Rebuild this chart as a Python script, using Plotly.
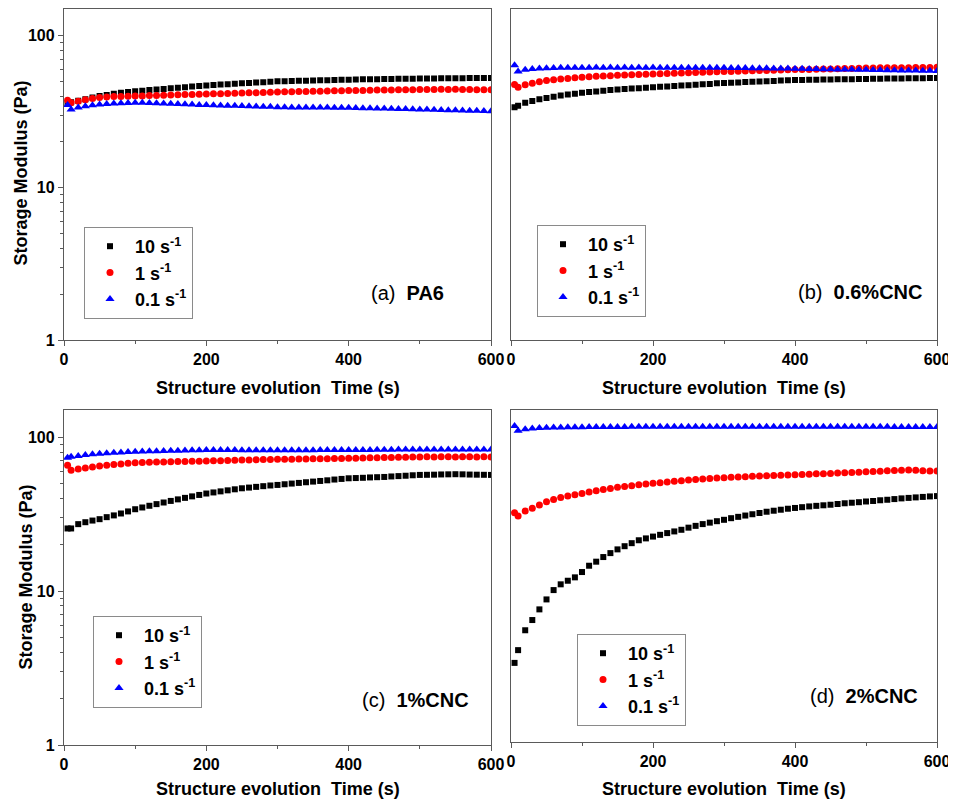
import plotly.graph_objects as go

# page offset: the browser puts the figure 8 px from the top-left corner
OFF = 8
W, H = 948, 793

# Time (s)
T = [5, 10, 20, 30, 40, 50, 60, 70, 80, 90, 100,
     110, 120, 130, 140, 150, 160, 170, 180, 190, 200,
     210, 220, 230, 240, 250, 260, 270, 280, 290, 300,
     310, 320, 330, 340, 350, 360, 370, 380, 390, 400,
     410, 420, 430, 440, 450, 460, 470, 480, 490, 500,
     510, 520, 530, 540, 550, 560, 570, 580, 590, 600]

SERIES_NAMES = ["10 s<sup>-1</sup>", "1 s<sup>-1</sup>", "0.1 s<sup>-1</sup>"]
PANEL_LABELS = [("(a)", "PA6"), ("(b)", "0.6%CNC"), ("(c)", "1%CNC"), ("(d)", "2%CNC")]

# (a) PA6
A_10 = [36.0, 36.5, 37.3, 38.2, 39.1, 40.0, 40.7, 41.4, 42.0, 42.5, 43.0,
        43.4, 43.8, 44.2, 44.6, 45.0, 45.4, 45.8, 46.2, 46.6, 47.0,
        47.3, 47.6, 47.9, 48.2, 48.5, 48.8, 49.1, 49.4, 49.7, 50.0,
        50.1, 50.2, 50.4, 50.5, 50.6, 50.8, 50.9, 51.0, 51.2, 51.3,
        51.4, 51.5, 51.6, 51.6, 51.7, 51.8, 51.9, 51.9, 52.0, 52.1,
        52.2, 52.2, 52.3, 52.3, 52.4, 52.4, 52.5, 52.5, 52.6, 52.6]
A_1 = [37.6, 36.2, 37.0, 37.8, 38.6, 39.2, 39.5, 39.7, 39.8, 39.9, 40.0,
       40.1, 40.3, 40.4, 40.5, 40.6, 40.8, 40.9, 41.0, 41.2, 41.3,
       41.4, 41.5, 41.6, 41.7, 41.9, 42.0, 42.1, 42.2, 42.4, 42.6,
       42.7, 42.7, 42.8, 42.9, 43.0, 43.1, 43.2, 43.3, 43.4, 43.5,
       43.6, 43.6, 43.7, 43.8, 43.8, 43.9, 44.0, 44.0, 44.1, 44.2,
       44.2, 44.2, 44.3, 44.2, 44.3, 44.2, 44.2, 44.1, 44.1, 44.0]
A_01 = [34.9, 32.7, 33.6, 34.3, 34.8, 35.2, 35.5, 35.7, 35.9, 36.0, 36.1,
        36.1, 36.0, 35.9, 35.7, 35.6, 35.5, 35.3, 35.2, 35.0, 34.9,
        34.8, 34.7, 34.6, 34.5, 34.4, 34.3, 34.2, 34.1, 34.0, 33.8,
        33.8, 33.7, 33.7, 33.7, 33.6, 33.6, 33.6, 33.5, 33.5, 33.5,
        33.4, 33.3, 33.3, 33.2, 33.1, 33.0, 32.9, 32.9, 32.8, 32.7,
        32.6, 32.5, 32.4, 32.3, 32.3, 32.2, 32.1, 32.0, 31.9, 31.8]

# (b) 0.6%CNC
B_10 = [33.8, 34.5, 36.1, 37.2, 38.1, 38.9, 39.6, 40.3, 40.9, 41.5, 42.0,
        42.5, 42.9, 43.3, 43.8, 44.2, 44.5, 44.8, 45.1, 45.4, 45.7,
        46.0, 46.3, 46.6, 46.9, 47.2, 47.5, 47.8, 48.1, 48.5, 48.8,
        49.0, 49.2, 49.5, 49.7, 49.9, 50.1, 50.3, 50.6, 50.8, 51.0,
        51.1, 51.2, 51.3, 51.4, 51.4, 51.5, 51.6, 51.6, 51.7, 51.8,
        51.9, 52.0, 52.1, 52.1, 52.2, 52.3, 52.4, 52.4, 52.5, 52.6]
B_1 = [47.6, 45.7, 47.5, 48.6, 49.6, 50.6, 51.2, 51.7, 52.2, 52.7, 53.2,
       53.5, 53.9, 54.2, 54.5, 54.8, 55.0, 55.2, 55.5, 55.7, 55.9,
       56.1, 56.3, 56.5, 56.7, 56.9, 57.1, 57.3, 57.5, 57.8, 58.0,
       58.1, 58.3, 58.5, 58.6, 58.8, 58.9, 59.1, 59.3, 59.5, 59.7,
       59.8, 59.9, 60.1, 60.2, 60.3, 60.5, 60.6, 60.8, 60.9, 61.1,
       61.2, 61.3, 61.3, 61.4, 61.5, 61.5, 61.6, 61.7, 61.7, 61.8]
B_01 = [63.7, 58.0, 59.5, 60.3, 60.8, 61.0, 61.2, 61.3, 61.4, 61.4, 61.5,
        61.5, 61.6, 61.5, 61.6, 61.5, 61.6, 61.5, 61.6, 61.5, 61.6,
        61.5, 61.5, 61.4, 61.5, 61.4, 61.4, 61.3, 61.4, 61.3, 61.3,
        61.2, 61.1, 61.1, 61.0, 60.9, 60.9, 60.8, 60.7, 60.6, 60.5,
        60.4, 60.3, 60.2, 60.1, 60.0, 59.9, 59.8, 59.7, 59.6, 59.5,
        59.4, 59.3, 59.2, 59.1, 59.0, 58.9, 58.8, 58.7, 58.6, 58.5]

# (c) 1%CNC
C_10 = [25.5, 25.5, 27.2, 28.0, 28.7, 29.3, 30.2, 31.0, 31.9, 32.9, 34.0,
        34.9, 35.8, 36.7, 37.6, 38.5, 39.4, 40.3, 41.2, 42.1, 43.0,
        43.7, 44.4, 45.1, 45.8, 46.5, 47.0, 47.5, 48.0, 48.5, 48.9,
        49.4, 49.9, 50.4, 50.9, 51.4, 51.9, 52.4, 53.0, 53.5, 54.0,
        54.2, 54.4, 54.7, 54.9, 55.1, 55.5, 55.8, 56.1, 56.5, 56.8,
        56.9, 57.0, 57.2, 57.3, 57.4, 57.3, 57.1, 57.0, 56.9, 56.8]
C_1 = [65.6, 60.9, 62.0, 63.0, 64.0, 64.9, 65.6, 66.3, 66.9, 67.6, 68.2,
       68.4, 68.6, 68.8, 69.0, 69.2, 69.3, 69.5, 69.6, 69.8, 69.9,
       70.1, 70.3, 70.5, 70.7, 70.9, 71.0, 71.2, 71.4, 71.5, 71.7,
       71.8, 71.9, 72.0, 72.1, 72.2, 72.3, 72.4, 72.5, 72.7, 72.8,
       73.0, 73.1, 73.3, 73.4, 73.6, 73.7, 73.9, 74.0, 74.2, 74.3,
       74.4, 74.3, 74.5, 74.4, 74.3, 74.4, 74.5, 74.3, 74.4, 74.3]
C_01 = [73.5, 74.5, 75.5, 76.5, 77.3, 78.0, 78.5, 79.0, 79.4, 79.9, 80.3,
        80.6, 80.8, 81.0, 81.2, 81.4, 81.6, 81.8, 82.0, 82.2, 82.4,
        82.4, 82.3, 82.4, 82.3, 82.2, 82.2, 82.1, 82.1, 82.0, 82.0,
        82.0, 82.1, 82.1, 82.2, 82.2, 82.3, 82.3, 82.4, 82.4, 82.4,
        82.5, 82.6, 82.6, 82.7, 82.8, 82.9, 83.0, 83.0, 83.1, 83.2,
        83.2, 83.1, 83.2, 83.1, 83.0, 83.1, 83.0, 83.1, 83.0, 83.0]

# (d) 2%CNC
D_10 = [3.3, 4.0, 5.4, 6.3, 7.4, 8.6, 9.9, 10.8, 11.4, 12.0, 13.0,
        14.3, 15.2, 16.3, 17.3, 18.3, 19.2, 20.1, 21.0, 21.6, 22.2,
        22.8, 23.4, 24.0, 24.6, 25.4, 26.1, 26.8, 27.4, 28.0, 28.6,
        29.3, 29.9, 30.5, 31.1, 31.7, 32.3, 32.8, 33.3, 33.8, 34.2,
        34.6, 35.0, 35.3, 35.6, 35.9, 36.3, 36.7, 37.0, 37.3, 37.7,
        38.0, 38.4, 38.7, 39.1, 39.5, 39.8, 40.1, 40.4, 40.7, 40.9]
D_1 = [31.8, 30.3, 32.6, 34.0, 35.8, 37.5, 38.8, 40.0, 41.0, 41.8, 42.6,
       43.5, 44.3, 45.1, 45.9, 46.7, 47.3, 47.9, 48.5, 49.1, 49.6,
       50.1, 50.6, 51.1, 51.6, 52.1, 52.5, 52.9, 53.3, 53.7, 54.0,
       54.3, 54.6, 54.8, 55.1, 55.3, 55.6, 55.8, 56.1, 56.3, 56.5,
       56.7, 56.9, 57.2, 57.4, 57.6, 57.9, 58.2, 58.4, 58.7, 59.0,
       59.3, 59.6, 59.9, 60.2, 60.5, 60.7, 60.3, 60.0, 59.8, 59.7]
D_01 = [117.7, 109.6, 112.0, 113.5, 114.3, 114.7, 115.0, 115.3, 115.5, 115.7, 115.8,
        115.9, 116.0, 116.1, 116.1, 116.2, 116.2, 116.3, 116.3, 116.3, 116.4,
        116.4, 116.4, 116.5, 116.5, 116.5, 116.5, 116.5, 116.6, 116.6, 116.6,
        116.6, 116.6, 116.6, 116.6, 116.6, 116.6, 116.6, 116.6, 116.6, 116.6,
        116.5, 116.5, 116.5, 116.5, 116.5, 116.4, 116.4, 116.4, 116.4, 116.3,
        116.3, 116.3, 116.3, 116.2, 116.2, 116.2, 116.1, 116.1, 116.1, 116.0]

PANELS = [(A_10, A_1, A_01), (B_10, B_1, B_01), (C_10, C_1, C_01), (D_10, D_1, D_01)]

COLORS = ["#000000", "#ff0000", "#0000ff"]
SYMBOLS = ["square", "circle", "triangle-up"]
SIZES = [6, 7, 8]

FONT = "Liberation Sans"
AXC = "#5a5a5a"

# panel geometry in page pixels: (left, right, top, bottom)
GEOM = [(64, 491, 8.7, 340), (511, 937, 8.7, 340), (64, 491, 410, 745), (511, 937, 410, 742)]
XTITLE_Y = [388, 388, 789, 789]
LEGEND_POS = [(84, 227), (537, 225), (93, 616), (577, 634)]
LABEL_POS = [(407, 293), (860, 292), (415, 700), (864, 696)]


def px(x):
    return (x - OFF) / W


def py(y):
    return min(1.0, max(0.0, 1 - (y - OFF) / H))


fig = go.Figure()

for i, (series, (l, r, t, b)) in enumerate(zip(PANELS, GEOM)):
    sfx = "" if i == 0 else str(i + 1)
    leg = "legend" + sfx
    for name, vals, col, sym, sz in zip(SERIES_NAMES, series, COLORS, SYMBOLS, SIZES):
        fig.add_trace(go.Scatter(
            x=T, y=vals, mode="markers", name=name,
            marker=dict(color=col, symbol=sym, size=sz, line=dict(width=0)),
            xaxis="x" + sfx, yaxis="y" + sfx, legend=leg, showlegend=True,
        ))

    left_col = (i % 2 == 0)
    fig.update_layout(**{
        "xaxis" + sfx: dict(
            domain=[px(l), px(r)], anchor="y" + sfx, range=[0, 600],
            tick0=0, dtick=200, ticks="outside", ticklen=5, tickwidth=1.3, tickcolor=AXC,
            minor=dict(tick0=0, dtick=100, ticks="outside", ticklen=3, tickwidth=1.3, tickcolor=AXC, showgrid=False),
            showline=True, linecolor=AXC, linewidth=1.3, mirror=True,
            showgrid=False, zeroline=False, automargin=False,
            tickfont=dict(family=FONT, size=16, color="black", weight="bold"),
        ),
        "yaxis" + sfx: dict(
            domain=[py(b), py(t)], anchor="x" + sfx, type="log",
            range=[0, 2.176], dtick=1,
            ticks="outside" if left_col else "", ticklen=5, tickwidth=1.3, tickcolor=AXC,
            showticklabels=left_col,
            minor=dict(ticks="outside" if left_col else "", ticklen=3, tickwidth=1.3, tickcolor=AXC,
                       dtick="D1", showgrid=False),
            showline=True, linecolor=AXC, linewidth=1.3, mirror=True,
            showgrid=False, zeroline=False, automargin=False,
            tickfont=dict(family=FONT, size=16, color="black", weight="bold"),
        ),
        leg: dict(
            x=px(LEGEND_POS[i][0]), y=py(LEGEND_POS[i][1]), xanchor="left", yanchor="top",
            xref="paper", yref="paper",
            bordercolor="#8a8a8a", borderwidth=1, bgcolor="white",
            font=dict(family=FONT, size=18, color="black", weight="bold"),
            itemwidth=40, tracegroupgap=0,
        ),
    })

annotations = []
for i, (l, r, t, b) in enumerate(GEOM):
    xc = (l + r) / 2
    annotations.append(dict(
        text="Structure evolution\u00a0 Time (s)", x=px(xc), y=py(XTITLE_Y[i]),
        xref="paper", yref="paper", showarrow=False, xanchor="center", yanchor="middle",
        font=dict(family=FONT, size=18, color="black", weight="bold"),
    ))
    pl = PANEL_LABELS[i]
    annotations.append(dict(
        text=pl[0] + "\u00a0 <b>" + pl[1] + "</b>",
        x=px(LABEL_POS[i][0]), y=py(LABEL_POS[i][1]),
        xref="paper", yref="paper", showarrow=False, xanchor="center", yanchor="middle",
        font=dict(family=FONT, size=20, color="black"),
    ))
for (xc, yc) in [(20, 173.5), (25, 577.5)]:
    annotations.append(dict(
        text="Storage Modulus (Pa)", x=px(xc), y=py(yc), textangle=-90,
        xref="paper", yref="paper", showarrow=False, xanchor="center", yanchor="middle",
        font=dict(family=FONT, size=18, color="black", weight="bold"),
    ))

fig.update_layout(
    width=W, height=H, margin=dict(l=0, r=0, t=0, b=0),
    paper_bgcolor="white", plot_bgcolor="white",
    annotations=annotations, showlegend=True,
)

fig.write_html("out.html")
